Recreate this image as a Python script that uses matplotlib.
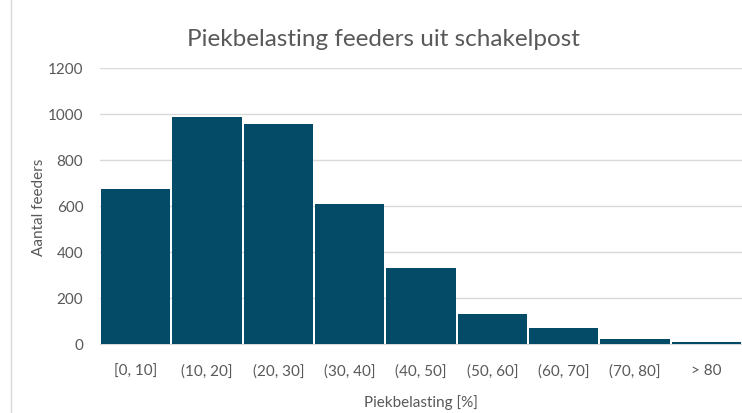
import matplotlib.pyplot as plt
from matplotlib.lines import Line2D

# --- data ---
categories = ['[0, 10]', '(10, 20]', '(20, 30]', '(30, 40]', '(40, 50]',
              '(50, 60]', '(60, 70]', '(70, 80]', '> 80']
counts = [674, 987, 957, 609, 330, 130, 70, 22, 10]

BAR_COLOR = '#034b67'
TEXT_COLOR = '#595959'
plt.rcParams['font.family'] = ['Lato', 'DejaVu Sans']

fig = plt.figure(figsize=(7.42, 4.14), dpi=100)
ax = fig.add_axes([100 / 742, 1 - 345 / 414, 642 / 742, 276 / 414])

x = list(range(len(categories)))
ax.bar(x, counts, width=0.975, color=BAR_COLOR, linewidth=0, zorder=3)

ax.set_xlim(-0.5, len(categories) - 0.5)
ax.set_ylim(0, 1200)
ax.set_yticks(range(0, 1201, 200))
ax.set_xticks(x)
ax.set_xticklabels(categories)
ax.grid(axis='y', color='#d9d9d9', linewidth=1, zorder=0)
ax.set_axisbelow(True)

for s in ['top', 'right', 'left']:
    ax.spines[s].set_visible(False)
ax.spines['bottom'].set_color('#d9d9d9')
ax.spines['bottom'].set_zorder(1)
ax.tick_params(length=0, colors=TEXT_COLOR, labelsize=11)
ax.tick_params(axis='x', pad=14)
ax.tick_params(axis='y', pad=12)

ax.set_xlabel('Piekbelasting [%]', fontsize=11, color=TEXT_COLOR, labelpad=12)
ax.set_ylabel('Aantal feeders', fontsize=11, color=TEXT_COLOR, labelpad=1)
fig.text(0.517, 1 - 40 / 414, 'Piekbelasting feeders uit schakelpost',
         ha='center', va='center', fontsize=17.5, color=TEXT_COLOR)

# chart frame edge on the left
fig.add_artist(Line2D([11 / 742, 11 / 742], [0, 1], color='#d9d9d9', linewidth=1))

fig.savefig('out.png', dpi=100)
